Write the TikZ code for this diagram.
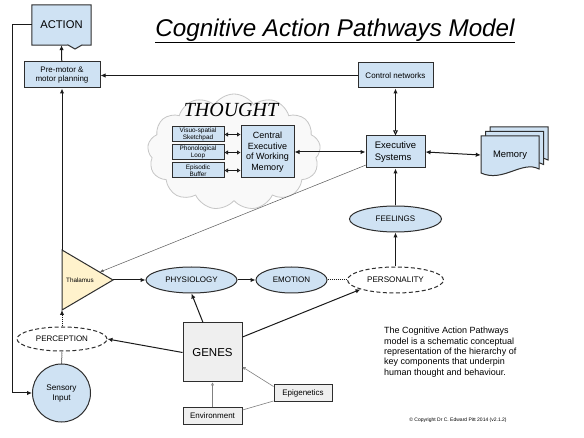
\documentclass[tikz,border=0pt]{standalone}
\usepackage{fontspec}
\setmainfont{Liberation Sans}
\newfontfamily\serifit{Liberation Serif}
\usetikzlibrary{arrows.meta,shapes.geometric,shapes.symbols}
\newcommand\fsz[2]{\fontsize{#1}{#2}\selectfont}
\definecolor{boxblue}{HTML}{CFE2F3}
\definecolor{genegray}{HTML}{EFEFEF}
\definecolor{thalyel}{HTML}{FFF2CC}
\definecolor{linec}{HTML}{1A1A1A}
\definecolor{bordc}{HTML}{2E2E2E}
\begin{document}
\begin{tikzpicture}[x=1pt,y=-1pt,
  box/.style={draw=bordc, fill=boxblue, line width=1pt, inner sep=0pt, align=center},
  gbox/.style={draw=bordc, fill=genegray, line width=1pt, inner sep=0pt, align=center},
  ell/.style={ellipse, draw=bordc, fill=boxblue, line width=1pt, inner sep=0pt},
  dell/.style={ellipse, draw=bordc, fill=white, line width=1pt, inner sep=0pt, dash pattern=on 4pt off 2.5pt},
  arr/.style={draw=linec, line width=1pt, -{Latex[length=5pt,width=4.5pt]}},
  biarr/.style={draw=linec, line width=1pt, {Latex[length=5pt,width=4.5pt]}-{Latex[length=5pt,width=4.5pt]}},
  dotl/.style={draw=linec, line width=1pt, dash pattern=on 1pt off 1pt},
  thinarr/.style={draw=gray!70!black, line width=0.5pt, -{Latex[length=3.5pt,width=3pt]}},
  gthin/.style={draw=gray, line width=0.6pt, -{Triangle[open,length=3pt,width=3pt]}},
  smallbi/.style={draw=linec, line width=0.9pt, {Triangle[open,length=3.5pt,width=4pt]}-{Triangle[open,length=3.5pt,width=4pt]}}
]
\fill[white] (0,0) rectangle (584,438);
\useasboundingbox (0,0) rectangle (584,438);

% title
\node (title) at (335,31) {\fsz{24.2}{28}\itshape\underline{Cognitive Action Pathways Model}};

% cloud
\node[cloud, cloud puffs=13, cloud puff arc=115, aspect=1.6, draw=gray!45, fill=gray!5, line width=0.8pt,
      minimum width=173pt, minimum height=116pt] (cloud) at (234,152) {};
\node (thought) at (231,110) {\serifit\itshape\fsz{20}{24}THOUGHT};

% ACTION
\node[minimum width=59pt, minimum height=40pt, inner sep=0pt] (act) at (61.5,25) {};
\filldraw[draw=bordc, fill=boxblue, line width=1pt]
  (act.north west) -- (act.north east) -- (act.south east) -- (82,45) -- (75,49) -- (68,45) -- (act.south west) -- cycle;
\node at (act) {\fsz{11.2}{13}ACTION};

% boxes
\node[box, minimum width=76pt, minimum height=26pt, font=\fsz{8}{9.6}] (pm) at (62,75) {Pre-motor \&\\motor planning};
\node[box, minimum width=75pt, minimum height=25pt, font=\fsz{8}{9.6}] (ctrl) at (395.5,75.5) {Control networks};
\node[box, minimum width=59pt, minimum height=32pt, font=\fsz{9.5}{11.2}, align=left] (exec) at (395.5,152) {Executive\\Systems};
\node[box, minimum width=53pt, minimum height=52pt, font=\fsz{9}{10.6}] (ce) at (267.5,152) {Central\\Executive\\of Working\\Memory};
\node[box, minimum width=52pt, minimum height=15pt, font=\fsz{6.4}{7}] (vs) at (198,134.5) {Visuo-spatial\\Sketchpad};
\node[box, minimum width=52pt, minimum height=15pt, font=\fsz{6.4}{7}] (ph) at (198,152.5) {Phonological\\Loop};
\node[box, minimum width=52pt, minimum height=15pt, font=\fsz{6.4}{7}] (eb) at (198,170.5) {Episodic\\Buffer};

% memory
\foreach \o in {9,4.5,0}{
  \begin{scope}[shift={(\o,-\o)}]
  \filldraw[draw=bordc, fill=boxblue, line width=1pt]
    (481,136) -- (539,136) -- (539,169) .. controls (522,160) and (503,183) .. (481,173) -- cycle;
  \end{scope}
}
\node[minimum width=58pt, minimum height=37pt, inner sep=0pt, font=\fsz{9.4}{11}] (mem) at (510,155) {Memory};

% thalamus
\coordinate (thalT) at (62,250);
\coordinate (thalB) at (62,310);
\coordinate (thalR) at (113,280);
\coordinate (thalE) at (100,272);
\filldraw[draw=bordc, fill=thalyel, line width=1pt] (thalT) -- (thalR) -- (thalB) -- cycle;
\node[font=\fsz{6.3}{7.5}] (thal) at (80,280) {Thalamus};

% ellipses
\node[ell, minimum width=91pt, minimum height=26pt, font=\fsz{8}{9.6}] (phys) at (191.5,280) {PHYSIOLOGY};
\node[ell, minimum width=71pt, minimum height=26pt, font=\fsz{8}{9.6}] (emo) at (291.5,280) {EMOTION};
\node[dell, minimum width=96pt, minimum height=26pt, font=\fsz{8.1}{9.6}] (pers) at (395.5,280) {PERSONALITY};
\node[ell, minimum width=92pt, minimum height=26pt, font=\fsz{8}{9.6}] (feel) at (395.5,219) {FEELINGS};
\node[dell, minimum width=90pt, minimum height=24pt, font=\fsz{8}{9.6}] (perc) at (62,339) {PERCEPTION};
\node[circle, draw=bordc, fill=boxblue, line width=1pt, minimum size=58pt, inner sep=0pt, align=center, font=\fsz{8.2}{10}] (sens) at (61.5,393) {Sensory\\Input};

% genes etc
\node[gbox, minimum width=59pt, minimum height=59pt, font=\fsz{11.5}{13}] (genes) at (212.5,352.5) {GENES};
\node[gbox, minimum width=59pt, minimum height=16pt, font=\fsz{8}{9.6}] (env) at (212.5,416) {Environment};
\node[gbox, minimum width=58pt, minimum height=17pt, font=\fsz{8}{9.6}] (epig) at (303,393.5) {Epigenetics};

% text
\node[anchor=north west, align=left, inner sep=0pt, font=\fsz{9}{10.4}] (desc) at (384,327)
  {The Cognitive Action Pathways\\model is a schematic conceptual\\representation of the hierarchy of\\key components that underpin\\human thought and behaviour.};
\node[font=\fsz{5}{6}] (copy) at (458,420) {© Copyright Dr C. Edward Pitt 2014 (v2.1.2)};

% connectors
\draw[arr] (pm) -- (act.south);
\draw[arr] (ctrl.west) -- (ctrl.west -| pm.east);
\draw[arr] (act.west) -- (12,25) |- (sens.west);
\draw[arr] (thalT) -- (pm.south);
\draw[dotl, -{Latex[length=5pt,width=4.5pt]}] (perc.north) -- (thalB);
\draw[dotl] (sens.north) -- (perc.south);
\draw[arr] (thalR) -- (phys.west);
\draw[arr] (phys) -- (emo);
\draw[dotl] (emo) -- (pers);
\draw[arr] (pers) -- (feel);
\draw[arr] (feel) -- (exec);
\draw[draw=linec, line width=1pt, {Triangle[open,length=5pt,width=4.5pt]}-{Latex[length=5pt,width=4.5pt]}] (exec) -- (ctrl);
\draw[biarr] (exec.east) -- (mem.west);
\draw[biarr] (ce.east) -- (exec.west);
\draw[smallbi] (vs.east) -- (vs.east -| ce.west);
\draw[smallbi] (ph.east) -- (ph.east -| ce.west);
\draw[smallbi] (eb.east) -- (eb.east -| ce.west);
\coordinate (exs) at (366,165);
\draw[thinarr] (exs) -- (thalE);
\draw[arr] ([xshift=-9.5pt]genes.north) -- (phys.south);
\draw[arr] (genes.west) -- (perc.east);
\draw[arr] ([yshift=15.5pt]genes.east) -- (pers.195);
\draw[gthin] (env) -- (genes);
\draw[draw=gray, line width=0.6pt] ([yshift=6pt]env.east) -- ([yshift=1.5pt]epig.south west);
\draw[gthin] ([yshift=-2pt]epig.north west) -- ([yshift=-14.5pt]genes.east);
\end{tikzpicture}
\end{document}
